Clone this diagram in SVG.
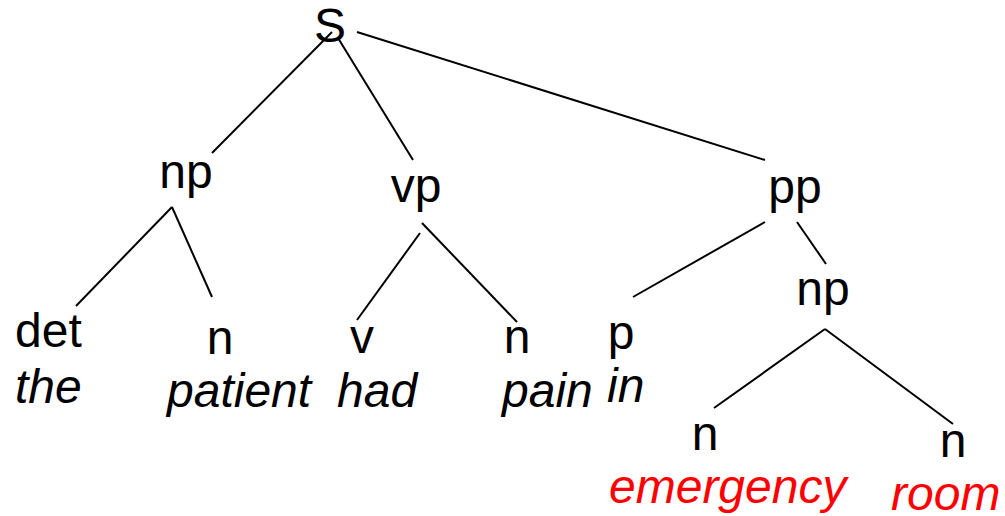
<svg xmlns="http://www.w3.org/2000/svg" width="1005" height="516" viewBox="0 0 1005 516">
  <style>
    text { font-family: "Liberation Sans", Arial, sans-serif; font-size: 48px; fill: #000; }
    .cat { text-anchor: middle; }
    .word { font-style: italic; }
    .hl { fill: #ff0000; }
    .edges line { stroke: #000; stroke-width: 2; stroke-linecap: butt; }
  </style>
  <rect width="1005" height="516" fill="#fff"/>

  <!-- tree edges -->
  <g id="edges" class="edges">
    <line x1="332" y1="32" x2="212" y2="153"/>
    <line x1="338" y1="38" x2="413" y2="160"/>
    <line x1="357" y1="32" x2="765" y2="160"/>
    <line x1="172" y1="207" x2="76" y2="306"/>
    <line x1="172" y1="207" x2="212" y2="297"/>
    <line x1="420" y1="233" x2="357" y2="320"/>
    <line x1="422" y1="223" x2="517" y2="322"/>
    <line x1="765" y1="222" x2="633" y2="297"/>
    <line x1="797" y1="222" x2="826" y2="264"/>
    <line x1="825" y1="329" x2="714" y2="408"/>
    <line x1="825" y1="329" x2="953" y2="424"/>
  </g>

  <g id="node-s"><text class="cat" x="330" y="42">S</text></g>
  <g id="node-np1"><text class="cat" x="186" y="188">np</text></g>
  <g id="node-vp"><text class="cat" x="416" y="202">vp</text></g>
  <g id="node-pp"><text class="cat" x="795" y="203">pp</text></g>
  <g id="node-np2"><text class="cat" x="823" y="305">np</text></g>

  <g id="leaf-det">
    <text x="15" y="347">det</text>
    <text class="word" x="15" y="403">the</text>
  </g>
  <g id="leaf-n1">
    <text class="cat" x="220" y="354">n</text>
    <text class="word" x="167" y="407">patient</text>
  </g>
  <g id="leaf-v">
    <text class="cat" x="362" y="353">v</text>
    <text class="word" x="337" y="407">had</text>
  </g>
  <g id="leaf-n2">
    <text class="cat" x="517" y="353">n</text>
    <text class="word" x="502" y="407">pain</text>
  </g>
  <g id="leaf-p">
    <text class="cat" x="621" y="349">p</text>
    <text class="word" x="607" y="402">in</text>
  </g>
  <g id="leaf-n3">
    <text class="cat" x="705" y="450">n</text>
    <text class="word hl" x="609" y="503">emergency</text>
  </g>
  <g id="leaf-n4">
    <text class="cat" x="953" y="457">n</text>
    <text class="word hl" x="891" y="510">room</text>
  </g>
</svg>
